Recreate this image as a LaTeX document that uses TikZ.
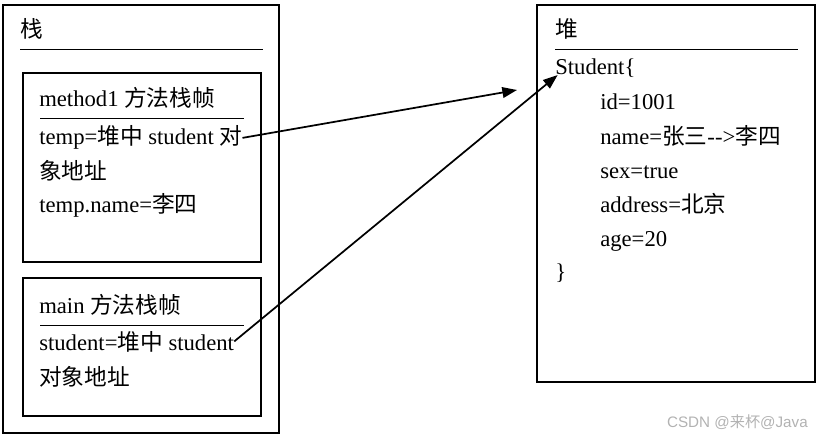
\documentclass[tikz,border=0pt]{standalone}
\usepackage{fontspec}
\setmainfont{Liberation Serif}
\setsansfont{Liberation Sans}
\newfontfamily\cjk{Noto Sans CJK SC}
\usetikzlibrary{arrows.meta}

\tikzset{
    box/.style={line width=1.5pt},
    sep/.style={line width=0.75pt},
    txt/.style={anchor=base west, inner sep=0pt, font=\fontsize{17}{20}\selectfont},
    ref/.style={line width=1.3pt, -{Triangle[length=11pt,width=8pt]}}
}

\begin{document}
\begin{tikzpicture}[x=0.75pt,y=-0.75pt]
\useasboundingbox (0,0) rectangle (824,438);
% stack
\draw[box] (3,5) rectangle (279,433);
\node[txt] (stack) at (20,38){\cjk 栈};
\draw[sep] (20,50) -- (263,50);
\draw[box] (23,73) rectangle (261,262);
\node[txt] (frame1) at (39,107){method1 {\cjk 方法栈帧}};
\draw[sep] (40,119) -- (244,119);
\node[txt] (temp) at (39,145){temp={\cjk 堆中} student {\cjk 对}};
\node[txt] (temp0) at (39,180){\cjk 象地址};
\node[txt] (temp1) at (39,213){temp.name={\cjk 李四}};
\draw[box] (23,278) rectangle (261,416);
\node[txt] (frame0) at (39,313){main {\cjk 方法栈帧}};
\draw[sep] (40,325) -- (244,325);
\node[txt] (stu) at (39,350){student={\cjk 堆中} student};
\node[txt] (stu0) at (39,385){\cjk 对象地址};
% heap
\draw[box] (537,5) rectangle (815,382);
\node[txt] (heap) at (555,38){\cjk 堆};
\draw[sep] (555,50) -- (798,50);
\node[txt] (obj) at (555,75){Student\{};
\node[txt] (obj0) at (600,110){id=1001};
\node[txt] (obj1) at (600,145){name={\cjk 张三}{-}{-}>{\cjk 李四}};
\node[txt] (obj2) at (600,179){sex=true};
\node[txt] (obj3) at (600,213){address={\cjk 北京}};
\node[txt] (obj4) at (600,247){age=20};
\node[txt] (obj5) at (555,280){\}};
\coordinate (tip) at (517,90);
\draw[ref] (temp.east) -- (tip);
\draw[ref] (stu.east) -- ([xshift=2pt]obj.base west);
\node[anchor=base east, inner sep=0pt, text=gray!60, font=\sffamily\fontsize{11.4}{13}\selectfont] (mark) at (808,427){CSDN @{\cjk 来杯}@Java};
\end{tikzpicture}
\end{document}
